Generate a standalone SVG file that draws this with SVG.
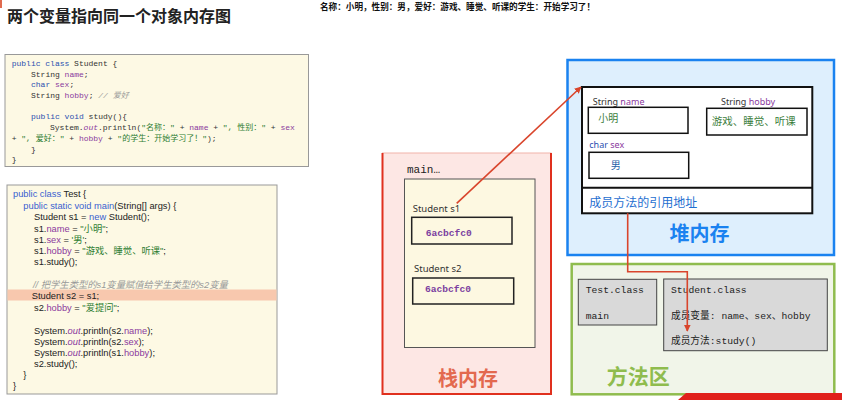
<svg xmlns="http://www.w3.org/2000/svg" width="842" height="400" viewBox="0 0 842 400">
<style>
.title{font-family:"Noto Sans CJK SC","Noto Sans",sans-serif;font-weight:bold;font-size:16px;fill:#222}
.out{font-family:"Noto Sans CJK SC",sans-serif;font-weight:bold;font-size:8.6px;fill:#111}
.mono{font-family:"Liberation Mono","Noto Sans CJK SC",monospace;font-size:8px;fill:#333;white-space:pre}
.sans{font-family:"Liberation Sans","Noto Sans CJK SC",sans-serif;font-size:9.3px;fill:#222;white-space:pre}
.kw{fill:#2a4fb0}
.kw2{fill:#3a5fd0}
.fld{fill:#8b3a9e}
.str{fill:#2e7d32}
.cmt{fill:#999;font-style:italic}
.it{font-style:italic;fill:#8b3a9e}
.lbl{font-family:"Noto Sans","Noto Sans CJK SC",sans-serif;font-size:9.5px;fill:#333}
.addr{font-family:"Liberation Mono",monospace;font-weight:bold;font-size:9.6px;fill:#7b3fa0}
.cls{font-family:"Liberation Mono","Noto Sans CJK SC",monospace;font-size:9.7px;fill:#222}
.big{font-family:"Noto Sans CJK SC",sans-serif;font-weight:bold;font-size:20px;text-anchor:middle}
.cell{fill:#fdf8e1;stroke:#222;stroke-width:1.5}
.hcell{fill:#fff;stroke:#111;stroke-width:1.5}
.arrow{fill:none;stroke:#d9452c;stroke-width:1.6}
</style>
<defs>
<marker id="ah" viewBox="0 0 10 10" refX="9" refY="5" markerWidth="7" markerHeight="7" orient="auto" markerUnits="userSpaceOnUse">
<path d="M0,0 L10,5 L0,10 z" fill="#d9452c"/>
</marker>
</defs>
<rect width="842" height="400" fill="#fff"/>
<rect x="0" y="0" width="2" height="8" fill="#e06a4e"/>
<text class="title" x="7" y="22">两个变量指向同一个对象内存图</text>
<text class="out" x="320" y="10">名称：小明，性别：男，爱好：游戏、睡觉、听课的学生：开始学习了！</text>

<g id="student-code">
<rect x="5" y="54.5" width="303.5" height="112" fill="#fdf9e4" stroke="#999" stroke-width="1"/>
<text class="mono" x="11.7" y="66"><tspan class="kw">public class</tspan> Student {</text>
<text class="mono" x="31" y="77">String <tspan class="fld">name</tspan>;</text>
<text class="mono" x="31" y="87"><tspan class="kw">char</tspan> <tspan class="fld">sex</tspan>;</text>
<text class="mono" x="31" y="98">String <tspan class="fld">hobby</tspan>; <tspan class="cmt">// 爱好</tspan></text>
<text class="mono" x="31" y="119"><tspan class="kw">public void</tspan> study(){</text>
<text class="mono" x="50" y="130">System.<tspan class="it">out</tspan>.println(<tspan class="str">"名称："</tspan> + <tspan class="fld">name</tspan> + <tspan class="str">", 性别："</tspan> + <tspan class="fld">sex</tspan></text>
<text class="mono" x="11.7" y="141">+ <tspan class="str">", 爱好："</tspan> + <tspan class="fld">hobby</tspan> + <tspan class="str">"的学生：开始学习了！"</tspan>);</text>
<text class="mono" x="31" y="152">}</text>
<text class="mono" x="11.7" y="162">}</text>
</g>

<g id="test-code">
<rect x="7" y="185" width="270" height="209" fill="#fdf9e4" stroke="#999" stroke-width="1"/>
<rect x="7.5" y="289.5" width="269" height="11" fill="#f8c8ae"/>
<text class="sans" x="13" y="197"><tspan class="kw2">public class</tspan> Test {</text>
<text class="sans" x="23.3" y="208.5"><tspan class="kw2">public static void main</tspan>(String[] args) {</text>
<text class="sans" x="34" y="220">Student s1 = <tspan class="kw2">new</tspan> Student();</text>
<text class="sans" x="34" y="231.5">s1.<tspan class="fld">name</tspan> = <tspan class="str">"小明"</tspan>;</text>
<text class="sans" x="34" y="243">s1.<tspan class="fld">sex</tspan> = <tspan class="str">'男'</tspan>;</text>
<text class="sans" x="34" y="254">s1.<tspan class="fld">hobby</tspan> = <tspan class="str">"游戏、睡觉、听课"</tspan>;</text>
<text class="sans" x="34" y="265">s1.study();</text>
<text class="sans" x="33" y="288"><tspan class="cmt">// 把学生类型的s1变量赋值给学生类型的s2变量</tspan></text>
<text class="sans" x="31.7" y="299">Student s2 = s1;</text>
<text class="sans" x="34" y="310.5">s2.<tspan class="fld">hobby</tspan> = <tspan class="str">"爱提问"</tspan>;</text>
<text class="sans" x="34" y="333.5">System.<tspan class="it">out</tspan>.println(s2.<tspan class="fld">name</tspan>);</text>
<text class="sans" x="34" y="345">System.<tspan class="it">out</tspan>.println(s2.<tspan class="fld">sex</tspan>);</text>
<text class="sans" x="34" y="356">System.<tspan class="it">out</tspan>.println(s1.<tspan class="fld">hobby</tspan>);</text>
<text class="sans" x="34" y="367">s2.study();</text>
<text class="sans" x="23.3" y="378">}</text>
<text class="sans" x="13" y="389">}</text>
</g>

<g id="stack">
<rect x="382.5" y="153" width="168.5" height="241" fill="#fde7e4" stroke="#f2b3aa" stroke-width="1"/>
<path d="M382.5,153 V394 H551 V153" fill="none" stroke="#e0301e" stroke-width="2"/>
<text class="cls" x="407" y="172.5" style="font-size:11px">main…</text>
<rect x="404.5" y="179" width="130.5" height="168.5" fill="#fdf8e1" stroke="#555" stroke-width="1"/>
<text class="big" x="468" y="386" fill="#e3694f">栈内存</text>
</g>

<g id="s1">
<text class="lbl" x="412.7" y="211.5">Student  s1</text>
<rect class="cell" x="411.7" y="217.3" width="100.3" height="26.7"/>
<text class="addr" x="425.7" y="235.5">6acbcfc0</text>
</g>

<g id="s2">
<text class="lbl" x="414" y="271.5">Student s2</text>
<rect class="cell" x="412.7" y="278" width="101" height="26"/>
<text class="addr" x="425" y="292">6acbcfc0</text>
</g>

<g id="heap">
<rect x="567.5" y="60" width="266.5" height="195" fill="#deeffd" stroke="#1a82f0" stroke-width="2.5"/>
<text class="big" x="699.5" y="240.5" fill="#1a82f0">堆内存</text>
</g>

<g id="student-object">
<rect x="582" y="87" width="230.3" height="126.3" fill="#fff" stroke="#111" stroke-width="2"/>
<line x1="582" y1="187.7" x2="812.3" y2="187.7" stroke="#111" stroke-width="2"/>
<text class="lbl" x="592.7" y="104.5" style="font-size:9px">String <tspan fill="#8b3a9e">name</tspan></text>
<rect class="hcell" x="588.3" y="107.3" width="99.7" height="26"/>
<text class="lbl" x="598.3" y="121.5" style="font-size:10px;fill:#3b7d3b">小明</text>
<text class="lbl" x="721" y="105" style="font-size:9px">String <tspan fill="#8b3a9e">hobby</tspan></text>
<rect class="hcell" x="706.7" y="108.3" width="100.3" height="26.7"/>
<text class="lbl" x="711.7" y="125" style="font-size:10.5px;fill:#3b7d3b">游戏、睡觉、听课</text>
<text class="lbl" x="589.3" y="147.5" style="font-size:9px"><tspan fill="#2a4fb0">char</tspan>  <tspan fill="#8b3a9e">sex</tspan></text>
<rect class="hcell" x="589" y="152.3" width="99.7" height="26"/>
<text class="lbl" x="610.7" y="169" style="font-size:10px;fill:#1f5fa8">男</text>
<text class="lbl" x="589.3" y="206.5" style="font-size:12px;fill:#1f6fd0">成员方法的引用地址</text>
</g>

<g id="method-area">
<rect x="571.7" y="264" width="262.6" height="130.3" fill="#f1f5e9" stroke="#8fbc4e" stroke-width="2.5"/>
<text class="big" x="638.3" y="384" fill="#8fbc4e" style="font-size:21px">方法区</text>
</g>

<g id="test-class">
<rect x="578.3" y="279.3" width="78.4" height="45.7" fill="#d9d9d9" stroke="#444" stroke-width="1"/>
<text class="cls" x="585.7" y="292.5">Test.class</text>
<text class="cls" x="585.7" y="318.5">main</text>
</g>

<g id="student-class">
<rect x="663.7" y="279" width="163.6" height="71.7" fill="#d9d9d9" stroke="#444" stroke-width="1"/>
<text class="cls" x="671" y="292.5">Student.class</text>
<text class="cls" x="671" y="318.5">成员变量: name、sex、hobby</text>
<text class="cls" x="671" y="344">成员方法:study()</text>
</g>

<g id="connectors">
<line class="arrow" x1="456.7" y1="203.3" x2="581" y2="87" marker-end="url(#ah)"/>
<polyline class="arrow" points="627.7,213.3 627.7,271.7 687.3,271.7 687.3,331" stroke="#c0392b" marker-end="url(#ah)"/>
</g>

<polygon points="678,400 686,393 842,393 842,400" fill="#e0201a"/>
</svg>
